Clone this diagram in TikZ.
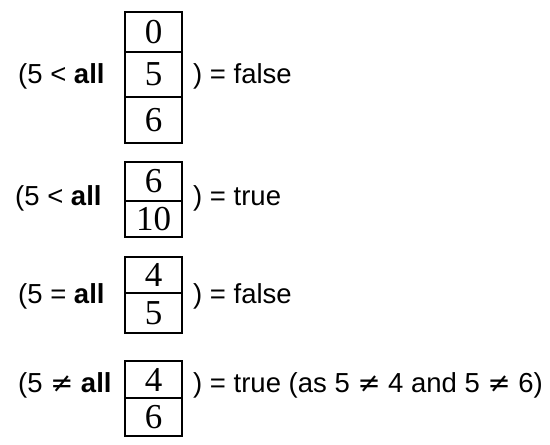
\documentclass[tikz,border=0pt]{standalone}
\usepackage{fontspec}
\setmainfont{Liberation Sans}
\newfontfamily\numfont{Liberation Serif}
\newfontfamily\symfont{DejaVu Sans}
\newcommand{\noteq}{{\symfont ≠}}
\usetikzlibrary{positioning}

\begin{document}
\begin{tikzpicture}[
        x=1pt, y=1pt,
        cell/.style={
          rectangle,
          draw,
          line width=1.2pt,
          outer sep=0pt,
          inner sep=0pt,
          minimum width=57pt,
          minimum height=#1,
          font=\numfont\fontsize{35}{35}\selectfont
        },
        expr/.style={
          anchor=base west,
          inner sep=0pt,
          font=\fontsize{27.5}{32}\selectfont
        }
    ]
    \useasboundingbox (0,0) rectangle (550,-445);

    % First comparison
    \node[cell=40pt, anchor=north west] (ltTop) at (125,-12) {0};
    \node[cell=45pt, below=0pt of ltTop] (ltMid) {5};
    \node[cell=46pt, below=0pt of ltMid] (ltBot) {6};
    \node[expr] (ltLeft) at (18,-83) {(5 < \textbf{all}};
    \node[expr] (ltRight) at (193,-83) {) = false};

    % Second comparison
    \node[cell=39pt, anchor=north west] (ltbTop) at (125,-162) {6};
    \node[cell=36pt, below=0pt of ltbTop] (ltbBot) {10};
    \node[expr] (ltbLeft) at (15,-205) {(5 < \textbf{all}};
    \node[expr] (ltbRight) at (193,-205) {) = true};

    % Third comparison
    \node[cell=36pt, anchor=north west] (eqTop) at (125,-257) {4};
    \node[cell=40pt, below=0pt of eqTop] (eqBot) {5};
    \node[expr] (eqLeft) at (18,-303) {(5 = \textbf{all}};
    \node[expr] (eqRight) at (193,-303) {) = false};

    % Fourth comparison
    \node[cell=37pt, anchor=north west] (neTop) at (125,-361) {4};
    \node[cell=38pt, below=0pt of neTop] (neBot) {6};
    \node[expr] (neLeft) at (18,-392) {(5 \noteq{} \textbf{all}};
    \node[expr] (neRight) at (193,-392) {) = true (as 5 \noteq{} 4 and 5 \noteq{} 6)};

\end{tikzpicture}
\end{document}
